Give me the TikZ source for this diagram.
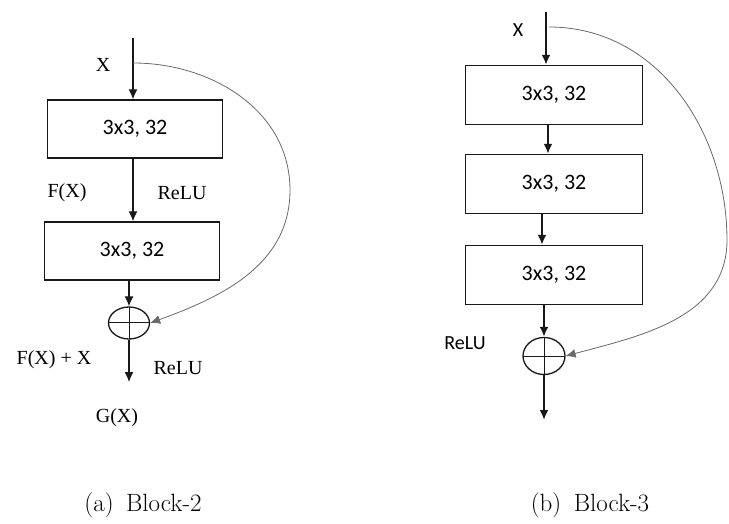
\documentclass[tikz,border=0pt]{standalone}
\usepackage{fontspec}
\usepackage{tikz}
\usetikzlibrary{arrows.meta,positioning,shapes.geometric,calc}
\newfontfamily\boxfont{Carlito}
\newfontfamily\labfont{Liberation Serif}
\definecolor{myblack}{RGB}{25,25,25}
\definecolor{mygray}{RGB}{105,105,105}

\begin{document}
\begin{tikzpicture}[x=1pt,y=1pt,
  convbox/.style={draw=myblack,line width=1.4pt,minimum width=175pt,minimum height=58pt,
    inner sep=0pt,font=\boxfont\fontsize{22}{24}\selectfont},
  addop/.style={ellipse,draw=myblack,line width=1.3pt,minimum width=41pt,minimum height=33pt,
    inner sep=0pt,path picture={
      \draw[myblack,line width=1pt]
        (path picture bounding box.north)--(path picture bounding box.south)
        (path picture bounding box.west)--(path picture bounding box.east);}},
  flow/.style={myblack,line width=1.2pt,-{Latex[length=10pt,width=9pt]}},
  thickflow/.style={flow,line width=2.2pt},
  shortcut/.style={mygray,line width=0.8pt,-{Latex[length=10pt,width=9pt]}},
  serlab/.style={font=\labfont\fontsize{20}{22}\selectfont},
  sanlab/.style={font=\boxfont\fontsize{20}{22}\selectfont},
  subcap/.style={font=\fontsize{25}{28}\selectfont}]
\useasboundingbox (0,0) rectangle (729,523);

% (a) Block-2
\coordinate (inL) at (133,485);
\coordinate (splitL) at (133,460);
\coordinate (bendL) at (290,333);
\node[convbox] (convLa) at (135,394) {3x3, 32};
\node[convbox] (convLb) at (132,272) {3x3, 32};
\node[addop,minimum width=41pt,minimum height=32pt] (addL) at (129,200) {};
\coordinate (outL) at (129,141);
\draw[flow](inL)--(inL |- convLa.north);
\draw[flow](inL |- convLa.south)--(inL |- convLb.north);
\draw[flow](addL |- convLb.south)--(addL.north);
\draw[flow](addL.south)--(outL);
\draw[shortcut](splitL) to[out=0,in=90] (bendL) to[out=-90,in=20] (addL.east);
\node[serlab] (xL) at (103,458) {X};
\node[serlab] (fxL) at (67,330) {F(X)};
\node[serlab] (reluLa) at (182,330) {ReLU};
\node[serlab] (sumL) at (54,163) {F(X) + X};
\node[serlab] (reluLb) at (178,155) {ReLU};
\node[serlab] (gxL) at (117,105) {G(X)};
\node[subcap] (capL) at (143,18) {(a)\enspace Block-2};

% (b) Block-3
\coordinate (inR) at (546,511);
\coordinate (splitR) at (549,496);
\coordinate (bendR) at (727,283);
\foreach \y/\i in {428/a,339/b,248/c}{
  \node[convbox,minimum width=177pt,minimum height=59pt] (convR\i) at (554,\y) {3x3, 32};
}
\node[addop,minimum width=42pt,minimum height=37pt] (addR) at (544,167) {};
\coordinate (outR) at (544,103);
\draw[thickflow](inR)--(inR |- convRa.north);
\draw[thickflow]([xshift=-6pt]convRa.south)--([xshift=-6pt]convRb.north);
\draw[thickflow]([xshift=-12pt]convRb.south)--([xshift=-12pt]convRc.north);
\draw[thickflow](addR |- convRc.south)--(addR.north);
\draw[thickflow](addR.south)--(outR);
\draw[shortcut](splitR) to[out=0,in=90] (bendR) to[out=-90,in=15] (addR.east);
\node[sanlab] (xR) at (518,493) {X};
\node[sanlab] (reluR) at (465,180) {ReLU};
\node[subcap] (capR) at (590,18) {(b)\enspace Block-3};
\end{tikzpicture}
\end{document}
